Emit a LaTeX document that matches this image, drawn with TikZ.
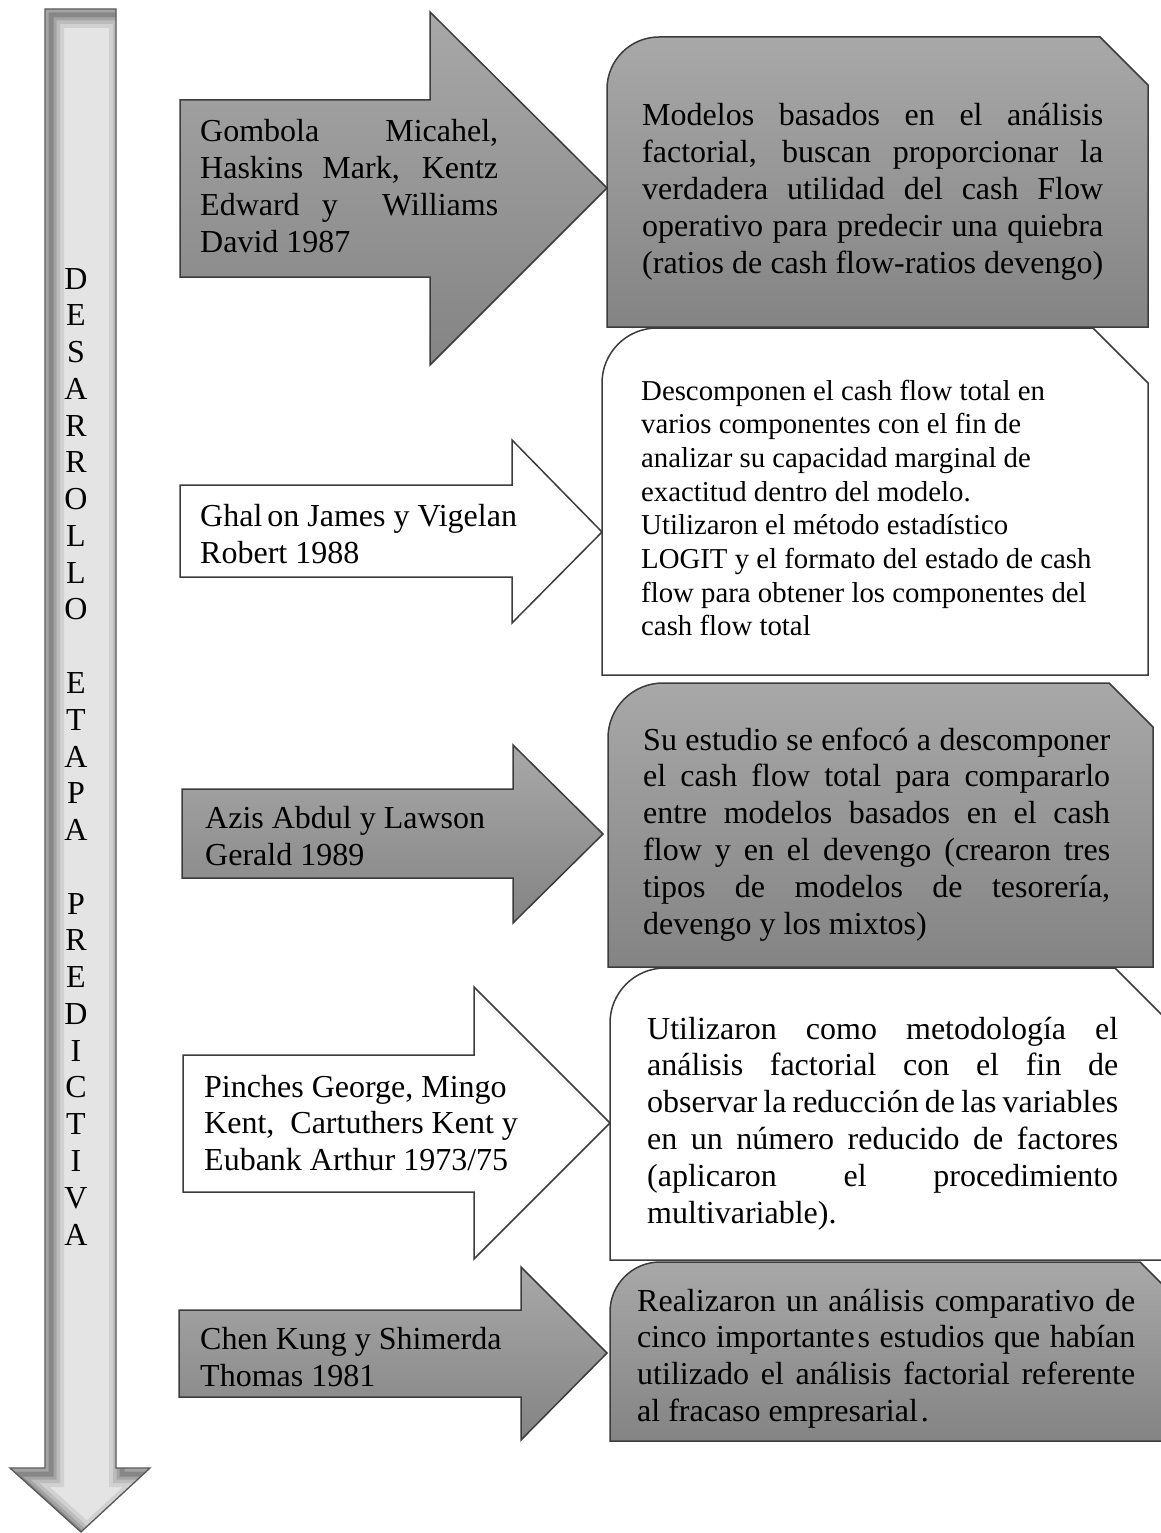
\documentclass[tikz,border=0pt]{standalone}
\usepackage{fontspec}
\setmainfont{Liberation Serif}
\definecolor{gtop}{HTML}{A8A8A8}
\definecolor{gbot}{HTML}{848484}
\definecolor{shaftfill}{HTML}{E4E4E4}
\definecolor{edgecol}{HTML}{3C3C3C}
% restore the font's own interword glue
\newcommand\resetspaces{\spaceskip=0pt\relax\xspaceskip=0pt\relax}
% one justified line of a given width (in pt)
\newcommand\jline[2]{\makebox[#1pt][s]{#2}}
% outline of the vertical timeline arrow
\newcommand\timelinepath{(45,9) -- (116,9) -- (116,1468) -- (150,1468) -- (81,1532) -- (10,1468) -- (45,1468) -- cycle}
% box with a rounded top-left corner and a snipped top-right corner:
% #1 left, #2 top, #3 right, #4 bottom, #5 radius, #6 snip
\newcommand\notebox[6]{(#1,#4) -- (#1,#2+#5) arc[start angle=180, end angle=270, radius=#5] -- (#3-#6,#2) -- (#3,#2+#6) -- (#3,#4) -- cycle}
\begin{document}
\begin{tikzpicture}[x=1pt,y=-1pt,
  edge/.style={draw=edgecol, line width=1.5pt, line join=miter},
  darkshape/.style={edge, top color=gtop, bottom color=gbot},
  lightshape/.style={edge, fill=white},
  txt/.style={inner sep=0pt, anchor=base west, text width=520pt,
              font=\fontsize{32}{37}\selectfont, execute at begin node=\resetspaces},
  smalltxt/.style={txt, font=\fontsize{28.8}{33.7}\selectfont},
  letter/.style={inner sep=0pt, anchor=base, font=\fontsize{32}{37}\selectfont},
]
\useasboundingbox (0,0) rectangle (1161,1533);
\fill[white] (0,0) rectangle (1161,1533);
\clip (0,0) rectangle (1161,1533);

% ---- vertical timeline arrow ----
\fill[shaftfill] \timelinepath;
\begin{scope}
  \clip \timelinepath;
  \begin{scope}[shift={(6,6)}]
    \foreach \w/\o in {26/0.10,18/0.13,11/0.17,5/0.25}
      \draw[line width=\w pt, black!80, opacity=\o, line join=miter] \timelinepath;
  \end{scope}
\end{scope}
\draw[draw=black!65, line width=1.3pt, line join=miter] \timelinepath;

\foreach \c [count=\i] in {D,E,S,A,R,R,O,L,L,O,{},E,T,A,P,A,{},P,R,E,D,I,C,T,I,V,A}
  \node[letter] (v\i) at (76,{289+36.77*(\i-1)}) {\c};

% ---- arrows with authors ----
\path[darkshape] (180,100) -- (430,100) -- (430,12) -- (607,188) -- (430,365) -- (430,277) -- (180,277) -- cycle;
\path[lightshape] (180,485) -- (512,485) -- (512,440) -- (602,532) -- (512,623) -- (512,577) -- (180,577) -- cycle;
\path[darkshape] (182,789) -- (513,789) -- (513,745) -- (603,834) -- (513,923) -- (513,878) -- (182,878) -- cycle;
\path[lightshape] (183,1055) -- (474,1055) -- (474,987) -- (610,1123) -- (474,1259) -- (474,1192) -- (183,1192) -- cycle;
\path[darkshape] (179,1310) -- (521,1310) -- (521,1267) -- (607,1353) -- (521,1440) -- (521,1397) -- (179,1397) -- cycle;

\node[txt] (a1) at (200,142) {\jline{298}{Gombola Micahel,}\\
  \jline{298}{Haskins Mark, Kentz}\\
  \jline{298}{Edward y\ \ Williams}\\
  David 1987};
\node[txt] (a2) at (200,526) {Ghal\kern5pt on James y Vigelan\\ Robert 1988};
\node[txt] (a3) at (205,828) {Azis Abdul y Lawson\\ Gerald 1989};
\node[txt, font=\fontsize{32}{36.6}\selectfont] (a4) at (204,1097) {Pinches George, Mingo\\ Kent,\ \ Cartuthers Kent y\\ Eubank Arthur 1973/75};
\node[txt] (a5) at (200,1349) {Chen Kung y Shimerda\\ Thomas 1981};

% ---- description boxes ----
\path[darkshape] \notebox{607}{37}{1148}{327}{52}{48};
\path[lightshape] \notebox{602}{328}{1148}{675}{55}{55};
\path[darkshape] \notebox{608}{683}{1153}{967}{55}{44};
\path[lightshape] \notebox{610}{968}{1165}{1260}{55}{50};
\path[darkshape] \notebox{610}{1262}{1190}{1441}{50}{50};

\node[txt] (b1) at (642,126) {\jline{461}{Modelos basados en el análisis}\\
  \jline{461}{factorial, buscan proporcionar la}\\
  \jline{461}{verdadera utilidad del cash Flow}\\
  \jline{461}{operativo para predecir una quiebra}\\
  \jline{461}{(ratios de cash flow-ratios devengo)}};
\node[smalltxt] (b2) at (641,400) {Descomponen el cash flow total en\\
  varios componentes con el fin de\\
  analizar su capacidad marginal de\\
  exactitud dentro del modelo.\\
  Utilizaron el método estadístico\\
  LOGIT y el formato del estado de cash\\
  flow para obtener los componentes del\\
  cash flow total};
\node[txt, font=\fontsize{32}{36.8}\selectfont] (b3) at (643,750) {\jline{467}{Su estudio se enfocó a descomponer}\\
  \jline{467}{el cash flow total para compararlo}\\
  \jline{467}{entre modelos basados en el cash}\\
  \jline{467}{flow y en el devengo (crearon tres}\\
  \jline{467}{tipos de modelos de tesorería,}\\
  devengo y los mixtos)};
\node[txt, font=\fontsize{32}{36.8}\selectfont] (b4) at (647,1039) {\jline{471}{Utilizaron como metodología el}\\
  \jline{471}{análisis factorial con el fin de}\\
  \jline{471}{observar la reducción de las variables}\\
  \jline{471}{en un número reducido de factores}\\
  \jline{471}{(aplicaron el procedimiento}\\
  multivariable).};
\node[txt, font=\fontsize{32}{36.7}\selectfont] (b5) at (637,1311) {\jline{498}{Realizaron un análisis comparativo de}\\
  \jline{498}{cinco importante\kern3pt s estudios que habían}\\
  \jline{498}{utilizado el análisis factorial referente}\\
  al fracaso empresarial\kern3pt.};
\end{tikzpicture}
\end{document}
